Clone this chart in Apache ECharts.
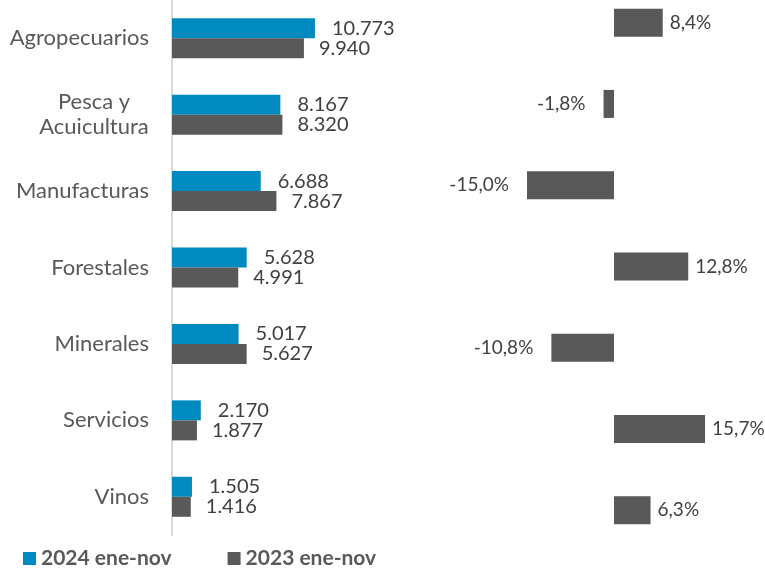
<!DOCTYPE html>
<html>
<head>
<meta charset="utf-8">
<script src="https://cdn.jsdelivr.net/npm/echarts@6/dist/echarts.min.js"></script>
<style>
  html, body { margin: 0; padding: 0; background: #fff; }
  #chart { width: 765px; height: 575px; }
</style>
</head>
<body>
<div id="chart"></div>
<script>
// datos
const sectores = ['Agropecuarios', 'Pesca y\nAcuicultura', 'Manufacturas', 'Forestales', 'Minerales', 'Servicios', 'Vinos']
const valores2024 = [10773, 8167, 6688, 5628, 5017, 2170, 1505]
const valores2023 = [9940, 8320, 7867, 4991, 5627, 1877, 1416]
const variacion = [8.4, -1.8, -15.0, 12.8, -10.8, 15.7, 6.3]

const fmtMiles = v => String(v).replace(/\B(?=(\d{3})+(?!\d))/g, '.')
const fmtPct = v => v.toFixed(1).replace('.', ',') + '%'

const chart = echarts.init(document.getElementById('chart'))

const option = {
  animation: false,
  textStyle: { fontFamily: 'Lato' },
  grid: [
    { left: 172, top: 0, width: 265.4, height: 535, outerBoundsMode: 'none' },
    { left: 498, top: -18, width: 232, height: 569, outerBoundsMode: 'none' }
  ],
  legend: {
    left: 18,
    bottom: 1,
    itemWidth: 13,
    itemHeight: 13,
    itemGap: 56,
    icon: 'rect',
    textStyle: { color: '#595959', fontSize: 21, fontWeight: 'bold', fontFamily: 'Lato' },
    data: ['2024 ene-nov', '2023 ene-nov']
  },
  xAxis: [
    { gridIndex: 0, type: 'value', min: 0, max: 20000, show: false },
    { gridIndex: 1, type: 'value', min: -20, max: 20, show: false }
  ],
  yAxis: [
    {
      gridIndex: 0,
      type: 'category',
      inverse: true,
      data: sectores,
      axisLine: { lineStyle: { color: '#d9d9d9', width: 2 } },
      axisTick: { show: false },
      axisLabel: {
        margin: 23,
        color: '#595959',
        fontSize: 22,
        formatter: v => v.indexOf('\n') >= 0 ? '{c|' + v.replace('\n', '}\n{c|') + '}' : v,
        rich: { c: { width: 110, align: 'center', fontSize: 22, color: '#595959', lineHeight: 25 } }
      }
    },
    {
      gridIndex: 1,
      type: 'category',
      inverse: true,
      data: sectores,
      show: false
    }
  ],
  series: [
    {
      name: '2024 ene-nov',
      type: 'bar',
      xAxisIndex: 0,
      yAxisIndex: 0,
      data: valores2024,
      barWidth: 20,
      barGap: '0%',
      itemStyle: { color: '#008abf' },
      label: {
        show: true, position: 'right', distance: 17,
        color: '#404040', fontSize: 20,
        formatter: p => fmtMiles(p.value)
      }
    },
    {
      name: '2023 ene-nov',
      type: 'bar',
      xAxisIndex: 0,
      yAxisIndex: 0,
      data: valores2023,
      barWidth: 20,
      barGap: '0%',
      itemStyle: { color: '#595959' },
      label: {
        show: true, position: 'right', distance: 15,
        color: '#404040', fontSize: 20,
        formatter: p => fmtMiles(p.value)
      }
    },
    {
      name: 'variacion',
      type: 'bar',
      xAxisIndex: 1,
      yAxisIndex: 1,
      barWidth: 28,
      itemStyle: { color: '#595959' },
      data: variacion.map(v => ({
        value: v,
        label: { position: v < 0 ? 'left' : 'right', distance: v < 0 ? 18 : 7 }
      })),
      label: {
        show: true,
        color: '#404040', fontSize: 19,
        formatter: p => fmtPct(p.value)
      }
    }
  ]
}

chart.setOption(option)
</script>
</body>
</html>
